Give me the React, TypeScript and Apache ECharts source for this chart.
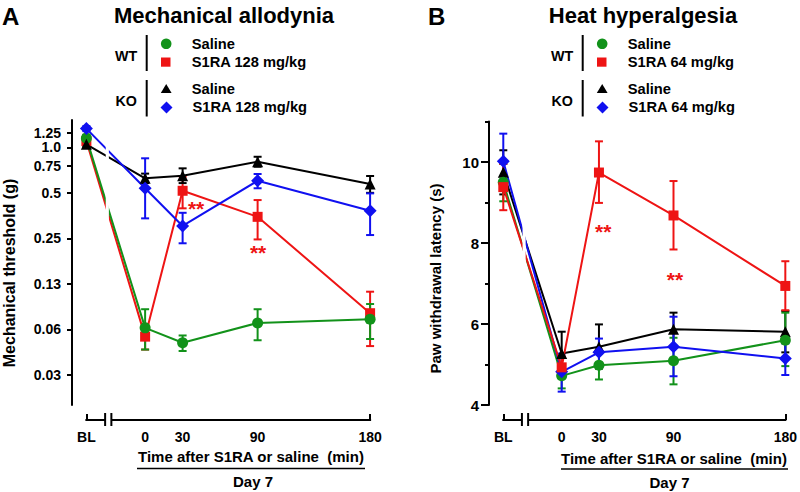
import React, { useEffect, useRef } from 'react';
import * as echarts from 'echarts';

// ---------- data ----------
const timeLabels = ['BL', '0', '30', '90', '180'];
const timePos = [-47, 0, 30, 90, 180];
const breakPos = [-32, -27];

// Mechanical allodynia, threshold (g)
const mechTickVals = [0.03125, 0.0625, 0.125, 0.25, 0.5, 0.75, 1, 1.25];
const mechTickLabels = ['0.03', '0.06', '0.13', '0.25', '0.5', '0.75', '1.0', '1.25'];

const mechWTSaline = [1.15, 0.064, 0.051, 0.069, 0.073];
const mechWTSalineHi = [1.21, 0.085, 0.057, 0.085, 0.092];
const mechWTSalineLo = [1.09, 0.046, 0.045, 0.053, 0.054];

const mechWTS1RA = [1.1, 0.056, 0.516, 0.347, 0.08];
const mechWTS1RAHi = [1.16, 0.068, 0.64, 0.448, 0.111];
const mechWTS1RALo = [1.04, 0.046, 0.395, 0.246, 0.0485];

const mechKOSaline = [1.047, 0.624, 0.649, 0.803, 0.572];
const mechKOSalineHi = [1.09, 0.67, 0.726, 0.866, 0.646];
const mechKOSalineLo = [1.01, 0.58, 0.58, 0.744, 0.5];

const mechKOS1RA = [1.33, 0.536, 0.302, 0.601, 0.381];
const mechKOS1RAHi = [1.38, 0.846, 0.369, 0.666, 0.496];
const mechKOS1RALo = [1.28, 0.339, 0.232, 0.536, 0.263];

const mechStars = [[40.8, 0.428], [90.4, 0.216]];

// Heat hyperalgesia, latency (s)
const heatMajorTicks = [4, 6, 8, 10];

const heatWTSaline = [9.5, 4.72, 4.98, 5.09, 5.6];
const heatWTSalineHi = [9.95, 5.0, 5.27, 5.66, 6.28];
const heatWTSalineLo = [9.03, 4.41, 4.63, 4.51, 4.96];

const heatWTS1RA = [9.38, 4.93, 9.74, 8.68, 6.94];
const heatWTS1RAHi = [9.95, 5.2, 10.51, 9.53, 7.55];
const heatWTS1RALo = [8.81, 4.68, 8.99, 7.84, 6.34];

const heatKOSaline = [9.75, 5.27, 5.44, 5.87, 5.81];
const heatKOSalineHi = [10.29, 5.81, 5.99, 6.28, 6.32];
const heatKOSalineLo = [9.2, 4.75, 4.9, 5.46, 5.3];

const heatKOS1RA = [10.02, 4.82, 5.3, 5.44, 5.15];
const heatKOS1RAHi = [10.7, 5.27, 5.64, 6.18, 5.52];
const heatKOS1RALo = [9.3, 4.33, 4.96, 4.71, 4.74];

const heatStars = [[33.4, 8.4], [91.2, 7.23]];

// ---------- styles ----------
const GREEN = '#12921a';
const RED = '#ee1414';
const BLACK = '#000000';
const BLUE = '#1010f0';
const FONT = "'Liberation Sans', Arial, Helvetica, sans-serif";

const groups = [
  { name: 'WT Saline', color: GREEN, symbol: 'circle', size: 11 },
  { name: 'WT S1RA', color: RED, symbol: 'rect', size: 10 },
  { name: 'KO Saline', color: BLACK, symbol: 'triangle', size: 11 },
  { name: 'KO S1RA', color: BLUE, symbol: 'diamond', size: 13 },
];

const errRender = (color: string) => (params: any, api: any) => {
  const x = api.value(0);
  const p1 = api.coord([x, api.value(1)]);
  const p2 = api.coord([x, api.value(2)]);
  const hw = 4;
  const st = { stroke: color, lineWidth: 2 };
  return {
    type: 'group',
    children: [
      { type: 'line', shape: { x1: p1[0], y1: p1[1], x2: p2[0], y2: p2[1] }, style: st },
      { type: 'line', shape: { x1: p1[0] - hw, y1: p1[1], x2: p1[0] + hw, y2: p1[1] }, style: st },
      { type: 'line', shape: { x1: p2[0] - hw, y1: p2[1], x2: p2[0] + hw, y2: p2[1] }, style: st },
    ],
  };
};

const starRender = (params: any, api: any) => {
  const p = api.coord([api.value(0), api.value(1)]);
  return {
    type: 'text',
    x: p[0],
    y: p[1] + 5,
    style: { text: '**', fill: RED, fontSize: 21, fontWeight: 'bold', fontFamily: FONT, align: 'center', verticalAlign: 'middle' },
  };
};

export default function App() {
  const ref = useRef<HTMLDivElement>(null);
  useEffect(() => {
    const chart = echarts.init(ref.current!, null, { renderer: 'svg' });

    const mechSets = [
      [mechWTSaline, mechWTSalineLo, mechWTSalineHi],
      [mechWTS1RA, mechWTS1RALo, mechWTS1RAHi],
      [mechKOSaline, mechKOSalineLo, mechKOSalineHi],
      [mechKOS1RA, mechKOS1RALo, mechKOS1RAHi],
    ];
    const heatSets = [
      [heatWTSaline, heatWTSalineLo, heatWTSalineHi],
      [heatWTS1RA, heatWTS1RALo, heatWTS1RAHi],
      [heatKOSaline, heatKOSalineLo, heatKOSalineHi],
      [heatKOS1RA, heatKOS1RALo, heatKOS1RAHi],
    ];

    const series: any[] = [];
    const panelOrder = [[1, 0, 2, 3], [2, 0, 3, 1]];
    [mechSets, heatSets].forEach((sets, gi) => {
      const tf = gi === 0 ? (v: number) => Math.log2(v) : (v: number) => v;
      const yIdx = gi === 0 ? 0 : 1;
      panelOrder[gi].forEach((k) => {
        const g = groups[k];
        const [m, lo, hi] = sets[k];
        series.push({
          type: 'custom',
          name: g.name + ' err',
          xAxisIndex: gi,
          yAxisIndex: yIdx,
          renderItem: errRender(g.color),
          encode: { x: 0, y: [1, 2] },
          clip: false,
          z: 3,
          data: timePos.map((x, i) => [x, tf(lo[i]), tf(hi[i])]),
        });
        series.push({
          type: 'line',
          name: g.name,
          xAxisIndex: gi,
          yAxisIndex: yIdx,
          symbol: g.symbol,
          symbolSize: g.size,
          showAllSymbol: true,
          itemStyle: { color: g.color },
          lineStyle: { color: g.color, width: 2 },
          z: 4,
          data: timePos.map((x, i) => [x, tf(m[i])]),
        });
      });
      const stars = gi === 0 ? mechStars.map(([x, v]) => [x, Math.log2(v)]) : heatStars;
      series.push({
        type: 'custom',
        xAxisIndex: gi,
        yAxisIndex: yIdx,
        renderItem: starRender,
        clip: false,
        z: 6,
        data: stars,
      });
    });

    const labelStyle = { color: '#000', fontWeight: 'bold', fontFamily: FONT };
    const xAxis = [0, 1].map((gi) => ({
      type: 'value',
      gridIndex: gi,
      position: 'bottom',
      min: -58.5,
      max: 190,
      offset: 15,
      axisLine: { show: false, onZero: false },
      axisTick: { show: true, inside: true, length: 6, customValues: [timePos[0], timePos[4]], lineStyle: { color: '#000', width: 2 } },
      axisLabel: {
        ...labelStyle,
        fontSize: 14,
        margin: 10,
        customValues: timePos,
        formatter: (v: number) => {
          const i = timePos.findIndex((t) => Math.abs(t - v) < 1e-6);
          return i >= 0 ? timeLabels[i] : '';
        },
      },
      splitLine: { show: false },
    }));

    const mechLog = mechTickVals.map((v) => Math.log2(v));
    const yAxis = [
      {
        type: 'value',
        gridIndex: 0,
        position: 'left',
        min: -5.66,
        max: 0.6,
        axisLine: { show: true, onZero: false, lineStyle: { color: '#000', width: 2 } },
        axisTick: { show: true, length: 5, customValues: mechLog, lineStyle: { color: '#000', width: 2 } },
        axisLabel: {
          ...labelStyle,
          fontSize: 14,
          margin: 11,
          customValues: mechLog,
          formatter: (v: number) => {
            const i = mechLog.findIndex((t) => Math.abs(t - v) < 1e-6);
            return i >= 0 ? mechTickLabels[i] : '';
          },
        },
        splitLine: { show: false },
      },
      {
        type: 'value',
        gridIndex: 1,
        position: 'left',
        min: 4,
        max: 11,
        interval: 1,
        axisLine: { show: true, onZero: false, lineStyle: { color: '#000', width: 2 } },
        axisTick: { show: true, length: 4, lineStyle: { color: '#000', width: 2 } },
        axisLabel: { show: false },
        splitLine: { show: false },
      },
      {
        type: 'value',
        gridIndex: 1,
        position: 'left',
        min: 4,
        max: 11,
        axisLine: { show: false, onZero: false },
        axisTick: { show: true, length: 8, customValues: heatMajorTicks, lineStyle: { color: '#000', width: 2 } },
        axisLabel: { ...labelStyle, fontSize: 15, margin: 10, customValues: heatMajorTicks, formatter: (v: number) => String(v) },
        splitLine: { show: false },
      },
    ];

    chart.setOption({
      animation: false,
      backgroundColor: '#fff',
      grid: [
        { left: 72, top: 120, width: 310.6, height: 285 },
        { left: 489, top: 121.5, width: 309.9, height: 283.5 },
      ],
      xAxis,
      yAxis,
      series,
    });

    // decorations computed through the axes
    const gfx: any[] = [];
    const txt = (text: string, x: number, y: number, size: number, align = 'left', extra: any = {}) => ({
      type: 'text',
      x,
      y,
      z: 100,
      ...extra,
      style: { text, fill: '#000', fontSize: size, fontWeight: 'bold', fontFamily: FONT, align, verticalAlign: 'middle' },
    });
    const ln = (x1: number, y1: number, x2: number, y2: number, w = 2, color = '#000') => ({
      type: 'line',
      z: 100,
      shape: { x1, y1, x2, y2 },
      style: { stroke: color, lineWidth: w },
    });

    const panels = [
      { gi: 0, dx: 0, letter: 'A', letterX: 2, title: 'Mechanical allodynia', titleX: 224, dose: 'S1RA 128 mg/kg', yTitle: 'Mechanical threshold (g)', yTitleX: 9, yTitleY: 273, yTitleSize: 16, top: 120, xt: 251, day: 253, ul: [137, 365], xtY: 456.5, ulY: 468.5, dayY: 481 },
      { gi: 1, dx: 436, letter: 'B', letterX: 428, title: 'Heat hyperalgesia', titleX: 643, dose: 'S1RA 64 mg/kg', yTitle: 'Paw withdrawal latency (s)', yTitleX: 435, yTitleY: 278.5, yTitleSize: 15, top: 121.5, xt: 674, day: 669.5, ul: [561, 788], xtY: 458, ulY: 469, dayY: 482 },
    ];
    panels.forEach((p) => {
      const cx = (v: number) => chart.convertToPixel({ xAxisIndex: p.gi }, v) as unknown as number;
      const ay = 420;
      const xBL = cx(timePos[0]);
      const xB1 = cx(breakPos[0]);
      const xB2 = cx(breakPos[1]);
      const xEnd = cx(timePos[4]);
      gfx.push(ln(xBL - 1, ay, xB1, ay));
      gfx.push(ln(xB2, ay, xEnd + 1, ay));
      gfx.push(ln(xB1, ay - 7, xB1, ay + 6));
      gfx.push(ln(xB2, ay - 7, xB2, ay + 6));
      // white gap through the lines at the axis break
      const g1 = cx(-31.5);
      const g2 = cx(-29);
      gfx.push({ type: 'rect', z: 50, shape: { x: g1, y: p.top, width: g2 - g1, height: 405 - p.top }, style: { fill: '#fff' } });

      gfx.push(txt(p.letter, p.letterX, 16, 24, 'left'));
      gfx.push(txt(p.title, p.titleX, 15.5, 22, 'center'));
      gfx.push(txt(p.yTitle, p.yTitleX, p.yTitleY, p.yTitleSize, 'center', { rotation: Math.PI / 2 }));
      gfx.push(txt('Time after S1RA or saline  (min)', p.xt, p.xtY, 15, 'center'));
      gfx.push(ln(p.ul[0], p.ulY, p.ul[1], p.ulY, 1.5));
      gfx.push(txt('Day 7', p.day, p.dayY, 15, 'center'));

      // legend
      const d = p.dx;
      gfx.push(txt('WT', 115 + d, 56.3, 14.3, 'left'));
      gfx.push(txt('KO', 115.5 + d, 100.5, 14.3, 'left'));
      gfx.push(ln(146.7 + d, 35, 146.7 + d, 71));
      gfx.push(ln(146.7 + d, 80, 146.7 + d, 116.5));
      gfx.push({ type: 'circle', z: 100, shape: { cx: 166.2 + d, cy: 43.8, r: 5.3 }, style: { fill: GREEN } });
      gfx.push({ type: 'rect', z: 100, shape: { x: 161 + d, y: 57.5, width: 9.5, height: 9.2 }, style: { fill: RED } });
      gfx.push({ type: 'polygon', z: 100, shape: { points: [[166.2 + d, 84], [171.6 + d, 93], [160.8 + d, 93]] }, style: { fill: BLACK } });
      gfx.push({ type: 'polygon', z: 100, shape: { points: [[166.5 + d, 101.5], [172.5 + d, 107.5], [166.5 + d, 113.5], [160.5 + d, 107.5]] }, style: { fill: BLUE } });
      gfx.push(txt('Saline', 191.7 + d, 43.8, 14.7, 'left'));
      gfx.push(txt(p.dose, 191.7 + d, 62.2, 14.7, 'left'));
      gfx.push(txt('Saline', 191.7 + d, 88.8, 14.7, 'left'));
      gfx.push(txt(p.dose, 192.5 + d, 107.3, 14.7, 'left'));
    });

    chart.setOption({ graphic: gfx });

    return () => chart.dispose();
  }, []);

  return (
    <div
      ref={ref}
      style={{ position: 'fixed', left: 0, top: 0, width: 800, height: 492, background: '#fff' }}
    />
  );
}
